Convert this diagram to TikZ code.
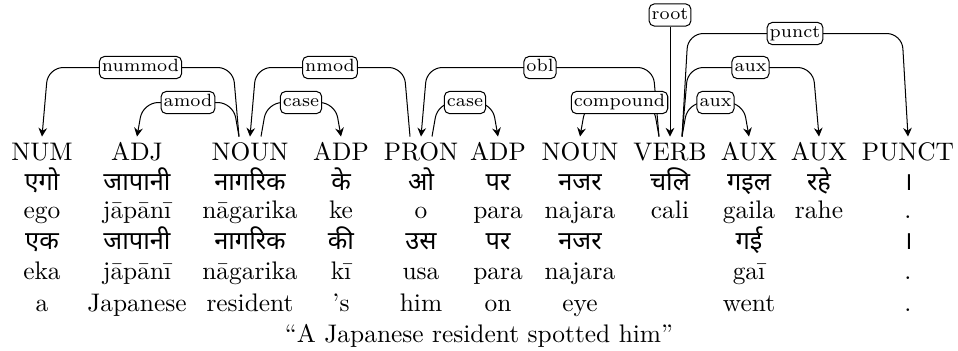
\documentclass[tikz,border=0pt]{standalone}
\usepackage{fontspec}
\newfontfamily\deva[Script=Devanagari]{Noto Sans}
\usetikzlibrary{arrows.meta,calc}
\begin{document}
\begin{tikzpicture}[x=0.3937pt,y=-0.3937pt,
  lbl/.style={draw,rounded corners=2pt,fill=white,font=\scriptsize,inner xsep=1pt,inner ysep=1.2pt,text height=4.9pt,text depth=1.4pt},
  dep/.style={-{Stealth[length=3.4pt,width=3.4pt]},rounded corners=6pt,line width=0.4pt},
  tag/.style={anchor=base,inner xsep=0pt,inner ysep=2.6pt,text height=6.83pt,text depth=0pt},
  wd/.style={anchor=base,inner sep=0pt},
  dv/.style={anchor=base,inner sep=0pt,font=\deva}]
\useasboundingbox (0,0) rectangle (958,351);
% POS row
\foreach \x/\t [count=\i] in {42/NUM,137/ADJ,250/NOUN,341/ADP,421/PRON,498/ADP,580/NOUN,670/VERB,749/AUX,819/AUX,908/PUNCT}
  \node[tag] (p\i) at (\x,161) {\t};
% Devanagari row 1
\foreach \x/\t [count=\i] in {42/एगो,137/जापानी,250/नागरिक,341/के,421/ओ,498/पर,580/नजर,670/चलि,749/गइल,819/रहे,908/।}
  \node[dv] (da\i) at (\x,191) {\t};
% transliteration row 1
\foreach \x/\t [count=\i] in {42/ego,137/jāpānī,250/nāgarika,341/ke,421/o,498/para,580/najara,670/cali,749/gaila,819/rahe,908/.}
  \node[wd] (ta\i) at (\x,219) {\t};
% Devanagari row 2
\foreach \x/\t [count=\i] in {42/एक,137/जापानी,250/नागरिक,341/की,421/उस,498/पर,580/नजर,749/गई,908/।}
  \node[dv] (db\i) at (\x,250) {\t};
% transliteration row 2
\foreach \x/\t [count=\i] in {42/eka,137/jāpānī,250/nāgarika,341/kī,421/usa,498/para,580/najara,749/gaī,908/.}
  \node[wd] (tb\i) at (\x,280) {\t};
% gloss row
\foreach \x/\t [count=\i] in {42/a,137/Japanese,250/resident,341/’s,421/him,498/on,580/eye,749/went,908/.}
  \node[wd] (g\i) at (\x,312) {\t};
\node[wd] (tr) at (479,343) {``A Japanese resident spotted him''};

% edge anchor coordinates
\coordinate (n3l) at ($(p3.north)+(-11,0)$);
\coordinate (n3r) at ($(p3.north)+(11,0)$);
\coordinate (n5l) at ($(p5.north)+(-11,0)$);
\coordinate (n5r) at ($(p5.north)+(11,0)$);
\coordinate (n8l) at ($(p8.north)+(-11,0)$);
\coordinate (n8r) at ($(p8.north)+(12,0)$);

% nummod
\draw[dep] (n3l) -- ++(-6,-69) -- ($(p1.north)+(6,-69)$) -- (p1.north);
\node[lbl] (lnummod) at ($(n3l)!0.5!(p1.north)+(0,-69)$) {nummod};
% amod
\draw[dep] (n3l) -- ++(-6,-34) -- ($(p2.north)+(6,-34)$) -- (p2.north);
\node[lbl] (lamod) at ($(n3l)!0.5!(p2.north)+(0,-34)$) {amod};
% nmod
\draw[dep] (n5l) -- ++(-6,-69) -- ($(p3.north)+(6,-69)$) -- (p3.north);
\node[lbl] (lnmod) at ($(n5l)!0.5!(p3.north)+(0,-69)$) {nmod};
% case 1
\draw[dep] (n3r) -- ++(6,-34) -- ($(p4.north)+(-6,-34)$) -- (p4.north);
\node[lbl] (lcasea) at ($(n3r)!0.5!(p4.north)+(0,-34)$) {case};
% obl
\draw[dep] (n8l) -- ++(-6,-69) -- ($(p5.north)+(6,-69)$) -- (p5.north);
\node[lbl] (lobl) at ($(n8l)!0.5!(p5.north)+(0,-69)$) {obl};
% case 2
\draw[dep] (n5r) -- ++(6,-34) -- ($(p6.north)+(-6,-34)$) -- (p6.north);
\node[lbl] (lcaseb) at ($(n5r)!0.5!(p6.north)+(0,-34)$) {case};
% compound
\draw[dep] (n8l) -- ++(-6,-34) -- ($(p7.north)+(6,-34)$) -- (p7.north);
\node[lbl] (lcompound) at ($(n8l)!0.5!(p7.north)+(0,-34)$) {compound};
% aux short
\draw[dep] (n8r) -- ++(6,-34) -- ($(p9.north)+(-6,-34)$) -- (p9.north);
\node[lbl] (lauxa) at ($(n8r)!0.5!(p9.north)+(0,-34)$) {aux};
% aux long
\draw[dep] (n8r) -- ++(6,-69) -- ($(p10.north)+(-6,-69)$) -- (p10.north);
\node[lbl] (lauxb) at ($(n8r)!0.5!(p10.north)+(0,-69)$) {aux};
% punct
\draw[dep] (n8r) -- ++(6,-103) -- ($(p11.north)+(-6,-103)$) -- (p11.north);
\node[lbl] (lpunct) at ($(n8r)!0.5!(p11.north)+(0,-103)$) {punct};
% root
\node[lbl] (lroot) at (670,15) {root};
\draw[dep] (lroot) -- (p8.north);
\end{tikzpicture}
\end{document}
